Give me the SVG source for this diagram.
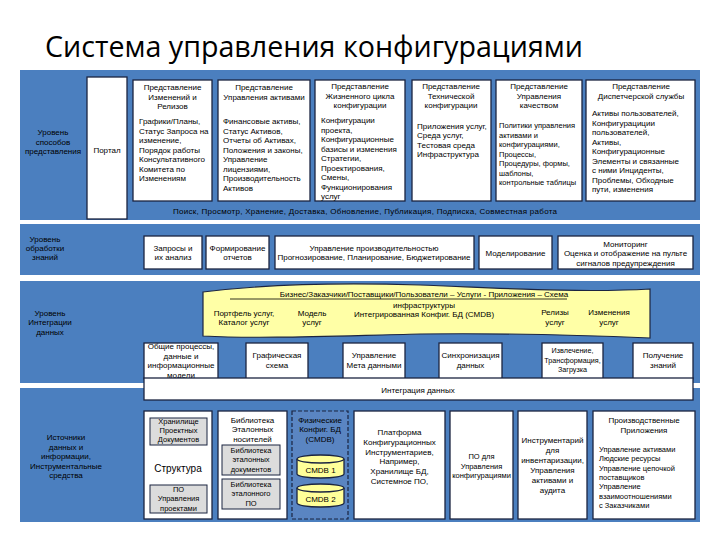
<svg xmlns="http://www.w3.org/2000/svg" width="720" height="540" viewBox="0 0 720 540">
<style>
.band{fill:#4b7fbf}
.box{fill:#fff;stroke:#1b2440;stroke-width:1.3}
.gbox{fill:#dcdcdc;stroke:#1b2440;stroke-width:1}
.t{font-family:"Liberation Sans",Arial,sans-serif;font-size:8px;fill:#000}
.s{font-size:7.5px}
.c{text-anchor:middle}
.title{font-family:"Open Sans","Liberation Sans",sans-serif;font-size:30px;fill:#000}
.cyl{fill:#ffff99;stroke:#1b2440;stroke-width:1.3}
</style>
<rect width="720" height="540" fill="#fff"/>
<text class="title" x="45" y="57" textLength="538" lengthAdjust="spacingAndGlyphs">Система управления конфигурациями</text>

<g id="bands">
<rect class="band" x="20" y="70" width="680" height="150"/>
<rect class="band" x="20" y="224" width="680" height="51"/>
<rect class="band" x="20" y="281" width="680" height="102"/>
<rect class="band" x="20" y="388" width="680" height="134"/>
</g>

<g id="level-presentation">
<text class="t c" x="53"><tspan x="53" y="135">Уровень</tspan><tspan x="53" y="144.5">способов</tspan><tspan x="53" y="154">представления</tspan></text>
</g>
<g id="portal">
<rect class="box" x="87" y="77" width="40" height="142"/>
<text class="t c" x="107" y="153">Портал</text>
</g>
<g id="view-changes">
<rect class="box" x="133" y="80" width="79" height="121"/>
<text class="t c"><tspan x="172.5" y="90">Представление</tspan><tspan x="172.5" y="99.5">Изменений и</tspan><tspan x="172.5" y="109">Релизов</tspan></text>
<text class="t"><tspan x="139" y="124">Графики/Планы,</tspan><tspan x="139" y="133.5">Статус Запроса на</tspan><tspan x="139" y="143">изменение,</tspan><tspan x="139" y="152.5">Порядок работы</tspan><tspan x="139" y="162">Консультативного</tspan><tspan x="139" y="171.5">Комитета по</tspan><tspan x="139" y="181">Изменениям</tspan></text>
</g>
<g id="view-assets">
<rect class="box" x="218" y="80" width="92" height="121"/>
<text class="t c"><tspan x="264" y="90">Представление</tspan><tspan x="264" y="99.5">Управления активами</tspan></text>
<text class="t"><tspan x="223" y="124">Финансовые активы,</tspan><tspan x="223" y="133.5">Статус Активов,</tspan><tspan x="223" y="143">Отчеты об Активах,</tspan><tspan x="223" y="152.5">Положения и законы,</tspan><tspan x="223" y="162">Управление</tspan><tspan x="223" y="171.5">лицензиями,</tspan><tspan x="223" y="181">Производительность</tspan><tspan x="223" y="190.5">Активов</tspan></text>
</g>
<g id="view-lifecycle">
<rect class="box" x="315" y="80" width="90" height="121"/>
<text class="t c"><tspan x="360" y="89">Представление</tspan><tspan x="360" y="98.5">Жизненного цикла</tspan><tspan x="360" y="108">конфигурации</tspan></text>
<text class="t"><tspan x="321" y="123">Конфигурации</tspan><tspan x="321" y="132.5">проекта,</tspan><tspan x="321" y="142">Конфигурационные</tspan><tspan x="321" y="151.5">базисы и изменения</tspan><tspan x="321" y="161">Стратегии,</tspan><tspan x="321" y="170.5">Проектирования,</tspan><tspan x="321" y="180">Смены,</tspan><tspan x="321" y="189.5">Функционирования</tspan><tspan x="321" y="199">услуг</tspan></text>
</g>
<g id="view-technical">
<rect class="box" x="412" y="80" width="79" height="121"/>
<text class="t c"><tspan x="451" y="89">Представление</tspan><tspan x="451" y="98.5">Технической</tspan><tspan x="451" y="108">конфигурации</tspan></text>
<text class="t"><tspan x="417" y="128.5">Приложения услуг,</tspan><tspan x="417" y="138">Среда услуг,</tspan><tspan x="417" y="147.5">Тестовая среда</tspan><tspan x="417" y="157">Инфраструктура</tspan></text>
</g>
<g id="view-quality">
<rect class="box" x="496" y="80" width="86" height="121"/>
<text class="t c"><tspan x="539" y="89">Представление</tspan><tspan x="539" y="98.5">Управления</tspan><tspan x="539" y="108">качеством</tspan></text>
<text class="t s"><tspan x="499" y="128">Политики управления</tspan><tspan x="499" y="137.5">активами и</tspan><tspan x="499" y="147">конфигурациями,</tspan><tspan x="499" y="156.5">Процессы,</tspan><tspan x="499" y="166">Процедуры, формы,</tspan><tspan x="499" y="175.5">шаблоны,</tspan><tspan x="499" y="185">контрольные таблицы</tspan></text>
</g>
<g id="view-servicedesk">
<rect class="box" x="586" y="80" width="109" height="121"/>
<text class="t c"><tspan x="641" y="89">Представление</tspan><tspan x="641" y="98.5">Диспетчерской службы</tspan></text>
<text class="t"><tspan x="592" y="116">Активы пользователей,</tspan><tspan x="592" y="125.5">Конфигурациции</tspan><tspan x="592" y="135">пользователей,</tspan><tspan x="592" y="144.5">Активы,</tspan><tspan x="592" y="154">Конфигурационные</tspan><tspan x="592" y="163.5">Элементы и связанные</tspan><tspan x="592" y="173">с ними Инциденты,</tspan><tspan x="592" y="182.5">Проблемы, Обходные</tspan><tspan x="592" y="192">пути, изменения</tspan></text>
</g>
<g id="search-line">
<text class="t" x="173" y="214" textLength="384" lengthAdjust="spacing">Поиск, Просмотр, Хранение, Доставка, Обновление, Публикация, Подписка, Совместная работа</text>
</g>

<g id="level-knowledge">
<text class="t c"><tspan x="45" y="242">Уровень</tspan><tspan x="45" y="251">обработки</tspan><tspan x="45" y="260">знаний</tspan></text>
</g>
<g id="queries">
<rect class="box" x="144" y="236" width="58" height="33"/>
<text class="t c"><tspan x="173" y="250.5">Запросы и</tspan><tspan x="173" y="260">их анализ</tspan></text>
</g>
<g id="reports">
<rect class="box" x="206" y="236" width="63" height="33"/>
<text class="t c"><tspan x="237.5" y="250.5">Формирование</tspan><tspan x="237.5" y="260">отчетов</tspan></text>
</g>
<g id="performance">
<rect class="box" x="275" y="236" width="199" height="33"/>
<text class="t c"><tspan x="374" y="250.5">Управление производительностью</tspan><tspan x="374" y="260">Прогнозирование, Планирование, Бюджетирование</tspan></text>
</g>
<g id="modeling">
<rect class="box" x="479" y="236" width="73" height="33"/>
<text class="t c" x="515.5" y="256">Моделирование</text>
</g>
<g id="monitoring">
<rect class="box" x="558" y="236" width="135" height="33"/>
<text class="t c"><tspan x="625.5" y="246.5">Мониторинг</tspan><tspan x="625.5" y="256">Оценка и отображение на пульте</tspan><tspan x="625.5" y="265.5">сигналов предупреждения</tspan></text>
</g>

<g id="level-integration">
<text class="t c"><tspan x="50" y="316">Уровень</tspan><tspan x="50" y="325">Интеграции</tspan><tspan x="50" y="334.5">данных</tspan></text>
</g>
<g id="service-map">
<path d="M203,292 C260,285 330,282 420,285 C500,288 580,293 650,289 L650,338 C580,335 500,333 420,334 C330,336 260,339 203,336 Z" fill="#ffffa6" stroke="#1b2440" stroke-width="1.2"/>
<text class="t c" x="424" y="297">Бизнес/Заказчики/Поставщики/Пользователи – Услуги - Приложения – Схема</text>
<line x1="230" y1="299" x2="567" y2="299" stroke="#000" stroke-width="0.8"/>
<text class="t c"><tspan x="424" y="308">инфраструктуры</tspan><tspan x="424" y="317">Интегрированная Конфиг. БД (CMDB)</tspan></text>
<text class="t c"><tspan x="244" y="316">Портфель услуг,</tspan><tspan x="244" y="325">Каталог услуг</tspan></text>
<text class="t c"><tspan x="312" y="316">Модель</tspan><tspan x="312" y="325">услуг</tspan></text>
<text class="t c"><tspan x="555" y="314.5">Релизы</tspan><tspan x="555" y="325">услуг</tspan></text>
<text class="t c"><tspan x="609" y="314.5">Изменения</tspan><tspan x="609" y="325">услуг</tspan></text>
</g>
<g id="common-models">
<rect class="box" x="144" y="343" width="74" height="36"/>
<text class="t c"><tspan x="181" y="349">Общие процессы,</tspan><tspan x="181" y="358.5">данные и</tspan><tspan x="181" y="368">информационные</tspan><tspan x="181" y="377.5">модели</tspan></text>
</g>
<g id="graph-schema">
<rect class="box" x="246" y="343" width="62" height="36"/>
<text class="t c"><tspan x="277" y="358">Графическая</tspan><tspan x="277" y="367.5">схема</tspan></text>
</g>
<g id="metadata">
<rect class="box" x="343" y="343" width="62" height="36"/>
<text class="t c"><tspan x="374" y="358">Управление</tspan><tspan x="374" y="367.5">Мета данными</tspan></text>
</g>
<g id="sync">
<rect class="box" x="439" y="343" width="63" height="36"/>
<text class="t c"><tspan x="470.5" y="358">Синхронизация</tspan><tspan x="470.5" y="367.5">данных</tspan></text>
</g>
<g id="etl">
<rect class="box" x="542" y="343" width="61" height="36"/>
<text class="t c" style="font-size:7.2px"><tspan x="572.5" y="353">Извлечение,</tspan><tspan x="572.5" y="362.5">Трансформация,</tspan><tspan x="572.5" y="372">Загрузка</tspan></text>
</g>
<g id="knowledge">
<rect class="box" x="633" y="343" width="60" height="36"/>
<text class="t c"><tspan x="663" y="358">Получение</tspan><tspan x="663" y="367.5">знаний</tspan></text>
</g>
<g id="data-integration">
<rect class="box" x="144" y="378" width="549" height="22"/>
<text class="t c" x="418" y="392.5">Интеграция данных</text>
</g>

<g id="level-sources">
<text class="t c"><tspan x="66" y="440">Источники</tspan><tspan x="66" y="449.5">данных и</tspan><tspan x="66" y="459">информации,</tspan><tspan x="66" y="468.5">Инструментальные</tspan><tspan x="66" y="478">средства</tspan></text>
</g>
<g id="structure">
<rect class="box" x="144" y="411" width="68" height="108"/>
<rect class="gbox" x="150" y="418" width="57" height="27"/>
<text class="t c s"><tspan x="178.5" y="424">Хранилище</tspan><tspan x="178.5" y="433">Проектных</tspan><tspan x="178.5" y="442">Документов</tspan></text>
<text class="t c" x="178" y="472" style="font-size:10px">Структура</text>
<rect class="gbox" x="150" y="485" width="57" height="28"/>
<text class="t c s"><tspan x="178.5" y="492">ПО</tspan><tspan x="178.5" y="501">Управления</tspan><tspan x="178.5" y="510.5">проектами</tspan></text>
</g>
<g id="media-library">
<rect class="box" x="218" y="411" width="69" height="108"/>
<text class="t c"><tspan x="252.5" y="422.5">Библиотека</tspan><tspan x="252.5" y="432">Эталонных</tspan><tspan x="252.5" y="441.5">носителей</tspan></text>
<rect class="gbox" x="222" y="445" width="58" height="30"/>
<text class="t c s"><tspan x="251" y="452.5">Библиотека</tspan><tspan x="251" y="462">эталонных</tspan><tspan x="251" y="471.5">документов</tspan></text>
<rect class="gbox" x="222" y="479" width="58" height="30"/>
<text class="t c s"><tspan x="251" y="486.5">Библиотека</tspan><tspan x="251" y="496">эталонного</tspan><tspan x="251" y="505.5">ПО</tspan></text>
</g>
<g id="physical-cmdb">
<rect x="292" y="411" width="56" height="108" fill="#5a85c2" stroke="#1b2440" stroke-width="1.2" stroke-dasharray="4,2"/>
<text class="t c"><tspan x="320" y="422.5">Физические</tspan><tspan x="320" y="432">Конфиг. БД</tspan><tspan x="320" y="441.5">(CMDB)</tspan></text>
<g id="cmdb1">
<path class="cyl" d="M297,459 v15 a23.5,4 0 0 0 47,0 v-15"/>
<ellipse class="cyl" cx="320.5" cy="459" rx="23.5" ry="4"/>
<text class="t c" x="320.5" y="473">CMDB 1</text>
</g>
<g id="cmdb2">
<path class="cyl" d="M297,488 v15 a23.5,4 0 0 0 47,0 v-15"/>
<ellipse class="cyl" cx="320.5" cy="488" rx="23.5" ry="4"/>
<text class="t c" x="320.5" y="501.5">CMDB 2</text>
</g>
</g>
<g id="platform">
<rect class="box" x="354" y="411" width="91" height="108"/>
<text class="t c"><tspan x="399.5" y="435">Платформа</tspan><tspan x="399.5" y="444.8">Конфигурационных</tspan><tspan x="399.5" y="454.6">Инструментариев,</tspan><tspan x="399.5" y="464.4">Например,</tspan><tspan x="399.5" y="474.2">Хранилище БД,</tspan><tspan x="399.5" y="484">Системное ПО,</tspan></text>
</g>
<g id="cm-software">
<rect class="box" x="450" y="411" width="63" height="108"/>
<text class="t c s"><tspan x="481.5" y="459">ПО для</tspan><tspan x="481.5" y="468.5">Управления</tspan><tspan x="481.5" y="478">конфигурациями</tspan></text>
</g>
<g id="inventory-tools">
<rect class="box" x="518" y="411" width="69" height="108"/>
<text class="t c"><tspan x="552.5" y="443">Инструментарий</tspan><tspan x="552.5" y="453">для</tspan><tspan x="552.5" y="463">инвентаризации,</tspan><tspan x="552.5" y="473">Управления</tspan><tspan x="552.5" y="483">активами и</tspan><tspan x="552.5" y="493">аудита</tspan></text>
</g>
<g id="production-apps">
<rect class="box" x="593" y="411" width="102" height="108"/>
<text class="t c"><tspan x="644" y="423">Производственные</tspan><tspan x="644" y="433">Приложения</tspan></text>
<text class="t s"><tspan x="599" y="452">Управление активами</tspan><tspan x="599" y="461.3">Людские ресурсы</tspan><tspan x="599" y="470.6">Управление цепочкой</tspan><tspan x="599" y="479.9">поставщиков</tspan><tspan x="599" y="489.2">Управление</tspan><tspan x="599" y="498.5">взаимоотношениями</tspan><tspan x="599" y="507.8">с Заказчиками</tspan></text>
</g>
</svg>
